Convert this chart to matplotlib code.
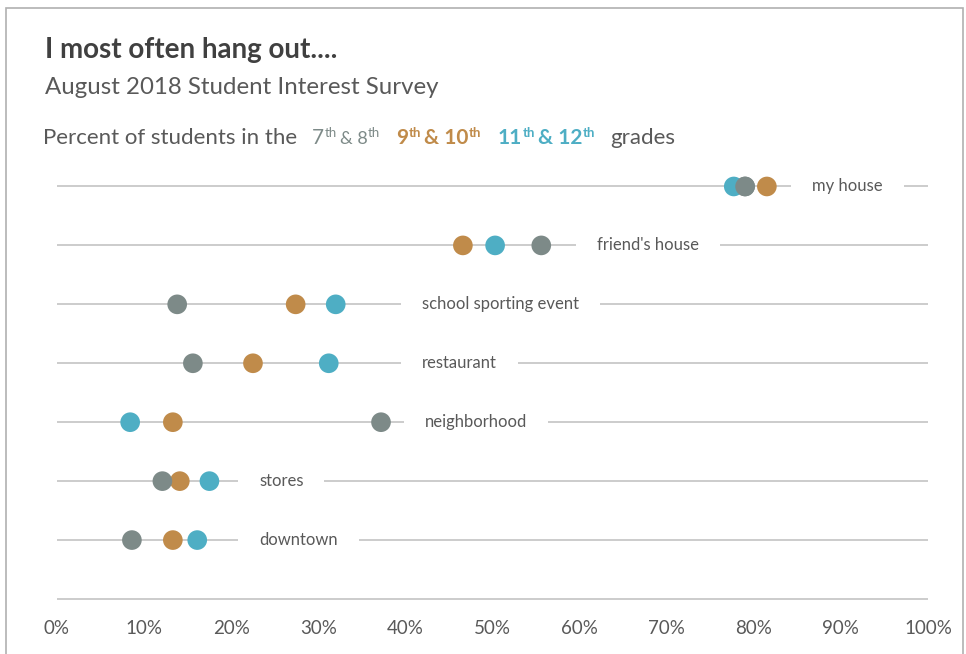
import matplotlib
matplotlib.use("Agg")
import matplotlib.pyplot as plt
from matplotlib.patches import Rectangle

# Survey data: percent of students choosing each place
places = ["my house", "friend's house", "school sporting event", "restaurant",
          "neighborhood", "stores", "downtown"]
grade_7_8 = [79.0, 55.6, 13.8, 15.6, 37.2, 12.1, 8.6]
grade_9_10 = [81.5, 46.6, 27.4, 22.5, 13.3, 14.1, 13.3]
grade_11_12 = [77.7, 50.3, 32.0, 31.2, 8.4, 17.5, 16.1]
x_ticks = [0, 10, 20, 30, 40, 50, 60, 70, 80, 90, 100]

# Where each row label sits along the line (percent axis)
label_x = [86.7, 62.0, 41.9, 41.9, 42.2, 23.2, 23.2]

GRAY = "#7d8a88"
ORANGE = "#c08b4a"
TEAL = "#4eaec4"
LINE = "#c8c8c8"
TEXT = "#595959"

plt.rcParams["font.family"] = ["Lato", "DejaVu Sans"]

fig = plt.figure(figsize=(9.66, 6.54), dpi=100)
fig.patch.set_facecolor("white")
fig.patches.append(Rectangle((6 / 966, -0.01), 957 / 966, 1 - 8 / 654 + 0.01,
                             transform=fig.transFigure, fill=False,
                             edgecolor="#b0b0b0", linewidth=1.2))

W, H = 966, 654
left, right = 57 / W, 928 / W
top_y, bot_y = 157, 605
ax = fig.add_axes([left, 1 - bot_y / H, right - left, (bot_y - top_y) / H])
ax.set_xlim(0, 100)
n = len(places)
ys = list(range(n))
ax.set_ylim((bot_y - 186) / 59, -0.5)

for y in ys:
    ax.plot([0, 100], [y, y], color=LINE, lw=1.3, zorder=1)
# empty baseline row
ax.plot([0, 100], [n, n], color=LINE, lw=1.3, zorder=1)

for vals, col in [(grade_9_10, ORANGE), (grade_7_8, GRAY), (grade_11_12, TEAL)]:
    ax.scatter(vals, ys, s=200, color=col, zorder=3, edgecolors="none")
# gray sits on top of teal where they overlap in the first row
ax.scatter(grade_7_8[:1], ys[:1], s=200, color=GRAY, zorder=4, edgecolors="none")

for y, name, lx in zip(ys, places, label_x):
    ax.text(lx, y, name, ha="left", va="center", fontsize=12, color=TEXT,
            zorder=5,
            bbox=dict(boxstyle="square,pad=1.25", facecolor="white",
                      edgecolor="none"))

ax.set_xticks(x_ticks)
ax.set_xticklabels([f"{t}%" for t in x_ticks], fontsize=13.5, color=TEXT)
ax.tick_params(axis="x", length=0, pad=11)
ax.set_yticks([])
for sp in ax.spines.values():
    sp.set_visible(False)

# Titles
fig.text(45 / W, 1 - 50 / H, "I most often hang out....", fontsize=20,
         fontweight="bold", color="#404040", va="center", ha="left")
fig.text(45 / W, 1 - 87 / H, "August 2018 Student Interest Survey",
         fontsize=17.3, color=TEXT, va="center", ha="left")

# Color-keyed legend line with superscripts
fig.canvas.draw()
renderer = fig.canvas.get_renderer()
pieces = [
    ("Percent of students in the", TEXT, 16, "normal", 0, 15),
    ("7", GRAY, 15, "normal", 0, 0),
    ("th", GRAY, 9.5, "normal", 7, 3),
    ("& 8", GRAY, 13, "normal", 0, 0),
    ("th", GRAY, 9.5, "normal", 7, 17),
    ("9", ORANGE, 15, "bold", 0, 0),
    ("th", ORANGE, 9.5, "bold", 7, 3),
    ("& 10", ORANGE, 15, "bold", 0, 0),
    ("th", ORANGE, 9.5, "bold", 7, 17),
    ("11", TEAL, 15, "bold", 0, 1),
    ("th", TEAL, 9.5, "bold", 7, 3),
    ("& 12", TEAL, 15, "bold", 0, 0),
    ("th", TEAL, 9.5, "bold", 7, 15),
    ("grades", TEXT, 16, "normal", 0, 0),
]
x_px = 43
base_y = 144
for txt, col, size, weight, rise, gap in pieces:
    t = fig.text(x_px / W, 1 - (base_y - rise) / H, txt, fontsize=size,
                 color=col, fontweight=weight, va="baseline", ha="left")
    bb = t.get_window_extent(renderer=renderer)
    x_px += bb.width + gap

fig.savefig("out.png", dpi=100, facecolor="white")
